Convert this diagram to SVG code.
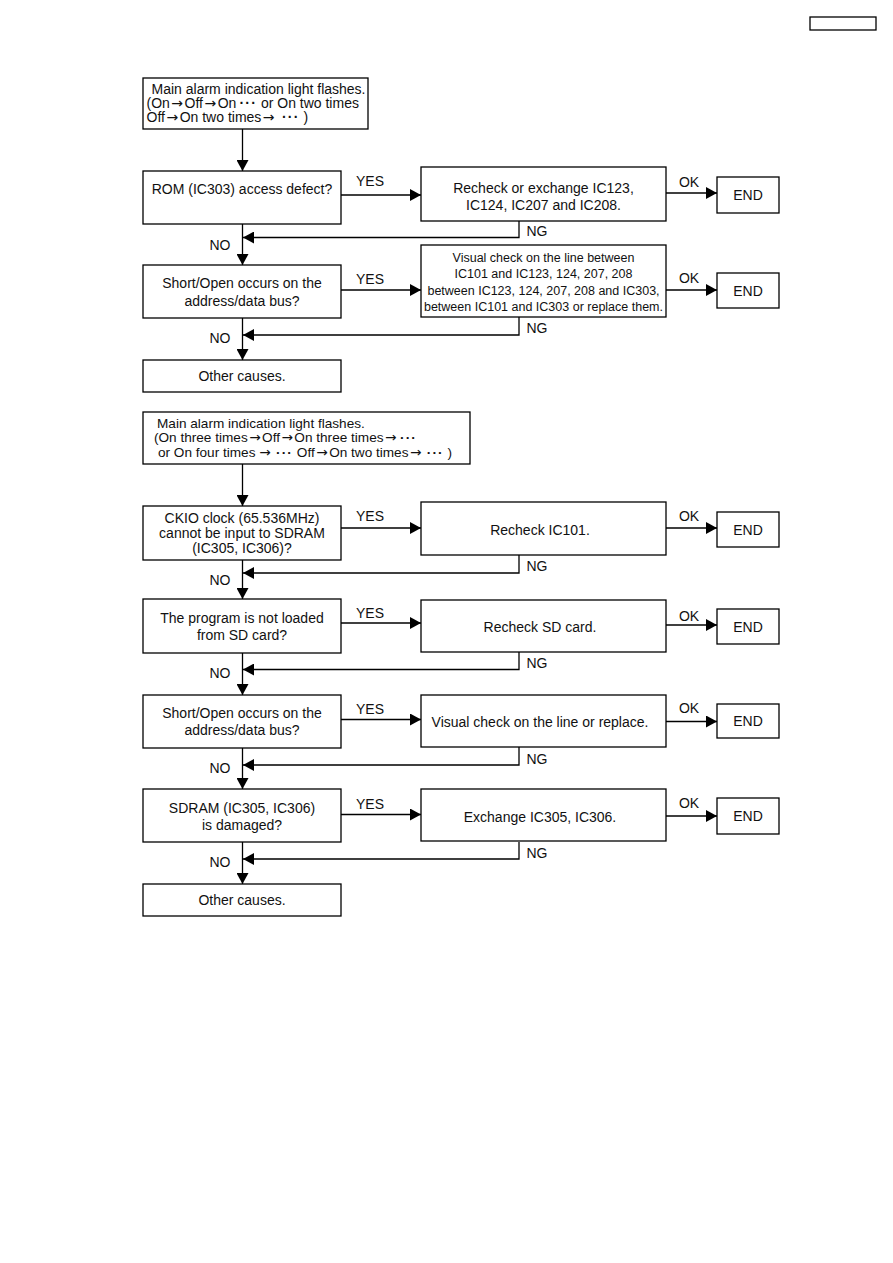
<svg xmlns="http://www.w3.org/2000/svg" width="893" height="1263" viewBox="0 0 893 1263">
<style>
.box{fill:#fff;stroke:#000;stroke-width:1.3}
.arr{fill:none;stroke:#000;stroke-width:1.3;marker-end:url(#ah)}
text{font-family:"Liberation Sans",Arial,Helvetica,sans-serif;font-size:14px;fill:#111}
.c{text-anchor:middle}
.s{font-size:12.5px}
.m{font-size:13.6px}
.d{font-weight:bold;letter-spacing:1.2px}
.a{font-family:"DejaVu Sans",sans-serif;letter-spacing:1.5px}
</style>
<defs>
<marker id="ah" markerUnits="userSpaceOnUse" markerWidth="11" markerHeight="12" refX="11" refY="6" orient="auto">
<path d="M0,0 L11,6 L0,12 Z" fill="#000"/>
</marker>
</defs>
<rect width="893" height="1263" fill="#fff"/>
<g id="header"><rect x="810" y="17" width="66" height="13" class="box"/></g>

<g id="connectors">
<path class="arr" d="M242.5,129 V171"/>
<path class="arr" d="M242.5,224 V265"/>
<path class="arr" d="M242.5,318 V360"/>
<path class="arr" d="M341,195 H421"/>
<path class="arr" d="M666,193 H717"/>
<path class="arr" d="M519,221 V237.5 H243"/>
<path class="arr" d="M341,290 H421"/>
<path class="arr" d="M666,290 H717"/>
<path class="arr" d="M519,317 V335 H243"/>
<path class="arr" d="M242.5,464 V506"/>
<path class="arr" d="M242.5,560 V599"/>
<path class="arr" d="M242.5,653 V695"/>
<path class="arr" d="M242.5,748 V789"/>
<path class="arr" d="M242.5,842 V884"/>
<path class="arr" d="M341,528 H421"/>
<path class="arr" d="M666,528 H717"/>
<path class="arr" d="M519,555 V573 H243"/>
<path class="arr" d="M341,623 H421"/>
<path class="arr" d="M666,625 H717"/>
<path class="arr" d="M519,652 V669.5 H243"/>
<path class="arr" d="M341,719.5 H421"/>
<path class="arr" d="M666,721.5 H717"/>
<path class="arr" d="M519,747 V765 H243"/>
<path class="arr" d="M341,814.5 H421"/>
<path class="arr" d="M666,816 H717"/>
<path class="arr" d="M519,842 V859 H243"/>
<text x="370" y="186" class="c">YES</text>
<text x="689" y="187" class="c">OK</text>
<text x="537" y="236" class="c">NG</text>
<text x="220" y="250" class="c">NO</text>
<text x="370" y="284" class="c">YES</text>
<text x="689" y="283" class="c">OK</text>
<text x="537" y="333" class="c">NG</text>
<text x="220" y="343" class="c">NO</text>
<text x="370" y="521" class="c">YES</text>
<text x="689" y="521" class="c">OK</text>
<text x="537" y="571" class="c">NG</text>
<text x="220" y="585" class="c">NO</text>
<text x="370" y="618" class="c">YES</text>
<text x="689" y="621" class="c">OK</text>
<text x="537" y="667.5" class="c">NG</text>
<text x="220" y="677.5" class="c">NO</text>
<text x="370" y="714" class="c">YES</text>
<text x="689" y="713" class="c">OK</text>
<text x="537" y="764" class="c">NG</text>
<text x="220" y="773" class="c">NO</text>
<text x="370" y="809" class="c">YES</text>
<text x="689" y="808" class="c">OK</text>
<text x="537" y="857.5" class="c">NG</text>
<text x="220" y="866.5" class="c">NO</text>
</g>

<g id="nodeA">
<rect x="143" y="78" width="225" height="51" class="box"/>
<text x="151.5" y="94">Main alarm indication light flashes.</text>
<text x="146.5" y="108">(On<tspan class="a" dx="1.5">→</tspan>Off<tspan class="a" dx="1.5">→</tspan>On<tspan class="d" dx="3">···</tspan> or On two times</text>
<text x="146.5" y="122">Off<tspan class="a" dx="1.5">→</tspan>On two times<tspan class="a" dx="1.5">→</tspan> <tspan class="d" dx="2">···</tspan> )</text>
</g>
<g id="nodeB">
<rect x="143" y="171" width="198" height="53" class="box"/>
<text x="242" y="194" class="c">ROM (IC303) access defect?</text>
</g>
<g id="nodeC">
<rect x="421" y="167" width="245" height="54" class="box"/>
<text x="543.5" y="193" class="c">Recheck or exchange IC123,</text>
<text x="543.5" y="210" class="c">IC124, IC207 and IC208.</text>
</g>
<g id="end1">
<rect x="717" y="177" width="62" height="36" class="box"/>
<text x="748" y="200" class="c">END</text>
</g>
<g id="nodeD">
<rect x="143" y="265" width="198" height="53" class="box"/>
<text x="242" y="288" class="c">Short/Open occurs on the</text>
<text x="242" y="306" class="c">address/data bus?</text>
</g>
<g id="nodeE">
<rect x="421" y="245" width="245" height="72" class="box"/>
<text x="543.5" y="262" class="c s">Visual check on the line between</text>
<text x="543.5" y="278" class="c s">IC101 and IC123, 124, 207, 208</text>
<text x="543.5" y="294.5" class="c s">between IC123, 124, 207, 208 and IC303,</text>
<text x="543.5" y="311" class="c s">between IC101 and IC303 or replace them.</text>
</g>
<g id="end2">
<rect x="717" y="273" width="62" height="35" class="box"/>
<text x="748" y="295.5" class="c">END</text>
</g>
<g id="nodeF">
<rect x="143" y="360" width="198" height="32" class="box"/>
<text x="242" y="381" class="c">Other causes.</text>
</g>

<g id="nodeG">
<rect x="143" y="412" width="327" height="52" class="box"/>
<text x="157" y="428" class="m">Main alarm indication light flashes.</text>
<text x="154" y="442" class="m">(On three times<tspan class="a" dx="1.5">→</tspan>Off<tspan class="a" dx="1.5">→</tspan>On three times<tspan class="a" dx="1.5">→</tspan><tspan class="d" dx="2">···</tspan></text>
<text x="158" y="456.5" class="m"> or On four times <tspan class="a">→</tspan> <tspan class="d">···</tspan> Off<tspan class="a" dx="1.5">→</tspan>On two times<tspan class="a" dx="1.5">→</tspan> <tspan class="d">···</tspan> )</text>
</g>
<g id="nodeH">
<rect x="143" y="506" width="198" height="54" class="box"/>
<text x="242" y="523" class="c">CKIO clock (65.536MHz)</text>
<text x="242" y="538" class="c">cannot be input to SDRAM</text>
<text x="242" y="553" class="c">(IC305, IC306)?</text>
</g>
<g id="nodeI">
<rect x="421" y="502" width="245" height="53" class="box"/>
<text x="540" y="535" class="c">Recheck IC101.</text>
</g>
<g id="end3">
<rect x="717" y="512" width="62" height="35" class="box"/>
<text x="748" y="534.5" class="c">END</text>
</g>
<g id="nodeJ">
<rect x="143" y="599" width="198" height="54" class="box"/>
<text x="242" y="623" class="c">The program is not loaded</text>
<text x="242" y="640" class="c">from SD card?</text>
</g>
<g id="nodeK">
<rect x="421" y="600" width="245" height="52" class="box"/>
<text x="540" y="631.5" class="c">Recheck SD card.</text>
</g>
<g id="end4">
<rect x="717" y="609" width="62" height="35" class="box"/>
<text x="748" y="631.5" class="c">END</text>
</g>
<g id="nodeL">
<rect x="143" y="695" width="198" height="53" class="box"/>
<text x="242" y="718" class="c">Short/Open occurs on the</text>
<text x="242" y="735" class="c">address/data bus?</text>
</g>
<g id="nodeM">
<rect x="421" y="695" width="245" height="52" class="box"/>
<text x="540" y="726.5" class="c">Visual check on the line or replace.</text>
</g>
<g id="end5">
<rect x="717" y="704" width="62" height="34" class="box"/>
<text x="748" y="726" class="c">END</text>
</g>
<g id="nodeN">
<rect x="143" y="789" width="198" height="53" class="box"/>
<text x="242" y="813" class="c">SDRAM (IC305, IC306)</text>
<text x="242" y="830" class="c">is damaged?</text>
</g>
<g id="nodeO">
<rect x="421" y="789" width="245" height="52" class="box"/>
<text x="540" y="821.5" class="c">Exchange IC305, IC306.</text>
</g>
<g id="end6">
<rect x="717" y="798" width="62" height="36" class="box"/>
<text x="748" y="821" class="c">END</text>
</g>
<g id="nodeP">
<rect x="143" y="884" width="198" height="32" class="box"/>
<text x="242" y="905" class="c">Other causes.</text>
</g>
</svg>
